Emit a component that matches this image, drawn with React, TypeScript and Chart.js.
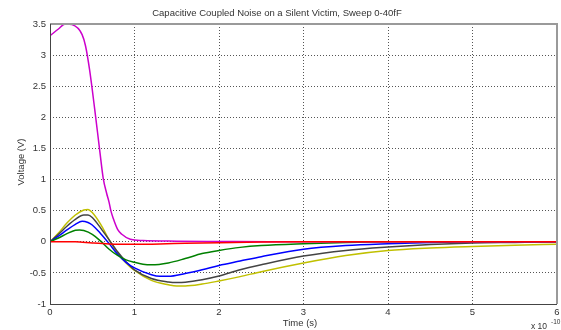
import React, { useEffect, useRef } from 'react';
import { Chart, registerables } from 'chart.js';

Chart.register(...registerables);

// Time axis in units of 1e-10 s
const tRed = [0, 0.3, 0.5, 0.7, 1.0, 1.3, 1.6, 2.0, 2.5, 3.0, 4.0, 5.0, 6.0];
const vRed = [0, 0, -0.02, -0.035, -0.04, -0.035, -0.025, -0.015, -0.005, 0, 0, 0, 0];

const tMag = [0, 0.1, 0.18, 0.26, 0.38, 0.42, 0.47, 0.53, 0.59, 0.63, 0.67, 0.7, 0.72, 0.75, 0.8, 0.85, 0.95, 1.1, 1.5, 2.0, 2.6, 4.0, 6.0];
const vMag = [3.31, 3.42, 3.5, 3.49, 3.33, 3.15, 2.75, 2.12, 1.45, 1.02, 0.78, 0.63, 0.5, 0.37, 0.2, 0.12, 0.04, 0.02, 0.01, 0.005, 0, 0, 0];

const tGreen = [0, 0.1, 0.2, 0.3, 0.35, 0.4, 0.5, 0.6, 0.7, 0.8, 0.9, 1.0, 1.1, 1.2, 1.4, 1.6, 1.8, 2.0, 2.25, 2.5, 3.0, 3.5, 4.0, 6.0];
const vGreen = [0, 0.06, 0.13, 0.185, 0.19, 0.18, 0.12, 0.01, -0.12, -0.22, -0.29, -0.33, -0.36, -0.37, -0.34, -0.27, -0.19, -0.14, -0.09, -0.06, -0.03, -0.01, 0, 0];

const tBlue = [0, 0.1, 0.2, 0.3, 0.38, 0.45, 0.5, 0.6, 0.7, 0.8, 0.9, 1.0, 1.2, 1.3, 1.4, 1.6, 1.8, 2.0, 2.25, 2.5, 3.0, 3.5, 4.0, 4.5, 5.0, 6.0];
const vBlue = [0, 0.09, 0.19, 0.28, 0.33, 0.31, 0.27, 0.13, -0.03, -0.2, -0.33, -0.42, -0.53, -0.555, -0.555, -0.51, -0.45, -0.38, -0.31, -0.24, -0.12, -0.06, -0.03, -0.01, 0, 0];

const tBlack = [0, 0.1, 0.2, 0.3, 0.4, 0.45, 0.5, 0.6, 0.7, 0.8, 0.9, 1.0, 1.2, 1.4, 1.5, 1.6, 1.8, 2.0, 2.25, 2.5, 3.0, 3.5, 4.0, 4.5, 5.0, 5.5, 6.0];
const vBlack = [0, 0.12, 0.25, 0.36, 0.43, 0.43, 0.39, 0.22, 0.03, -0.16, -0.32, -0.45, -0.59, -0.645, -0.655, -0.65, -0.61, -0.55, -0.45, -0.37, -0.23, -0.14, -0.085, -0.045, -0.02, -0.01, 0];

const tYellow = [0, 0.1, 0.2, 0.3, 0.4, 0.45, 0.5, 0.6, 0.7, 0.8, 0.9, 1.0, 1.2, 1.4, 1.5, 1.6, 1.8, 2.0, 2.25, 2.5, 3.0, 3.5, 4.0, 4.5, 5.0, 5.5, 6.0];
const vYellow = [0, 0.14, 0.3, 0.43, 0.51, 0.52, 0.47, 0.28, 0.03, -0.18, -0.34, -0.46, -0.62, -0.69, -0.71, -0.71, -0.68, -0.63, -0.56, -0.48, -0.34, -0.22, -0.14, -0.1, -0.075, -0.055, -0.04];

const xTicks = [0, 1, 2, 3, 4, 5, 6];
const yTicks = [-1, -0.5, 0, 0.5, 1, 1.5, 2, 2.5, 3, 3.5];

const TITLE = 'Capacitive Coupled Noise on a Silent Victim, Sweep 0-40fF';
const X_TITLE = 'Time (s)';
const Y_TITLE = 'Voltage (V)';

const pts = (t: number[], v: number[]) => t.map((x, i) => ({ x, y: v[i] }));

const FONT = 'Arial, "Liberation Sans", sans-serif';
const FS = 9.5;

const decor = {
  id: 'decor',
  afterDraw(chart: any) {
    const { ctx, chartArea: a } = chart;
    ctx.save();
    ctx.strokeStyle = '#9a9a9a';
    ctx.lineWidth = 2;
    ctx.beginPath();
    ctx.moveTo(a.left, a.top);
    ctx.lineTo(a.right, a.top);
    ctx.lineTo(a.right, a.bottom);
    ctx.stroke();
    ctx.strokeStyle = '#444';
    ctx.lineWidth = 1;
    ctx.beginPath();
    ctx.moveTo(a.left + 0.5, a.top);
    ctx.lineTo(a.left + 0.5, a.bottom + 0.5);
    ctx.lineTo(a.right, a.bottom + 0.5);
    ctx.stroke();

    ctx.fillStyle = '#333';
    ctx.font = `${FS}px ${FONT}`;
    ctx.textAlign = 'center';
    ctx.textBaseline = 'middle';
    ctx.fillText(TITLE, 277, 13);
    ctx.fillText(X_TITLE, 300, 323);
    ctx.save();
    ctx.translate(21, 162);
    ctx.rotate(-Math.PI / 2);
    ctx.fillText(Y_TITLE, 0, 0);
    ctx.restore();
    ctx.textAlign = 'left';
    ctx.font = `8.5px ${FONT}`;
    ctx.fillText('x 10', 531, 327);
    ctx.font = `6.5px ${FONT}`;
    ctx.fillText('-10', 551, 322);
    ctx.restore();
  },
};

export default function App() {
  const ref = useRef<HTMLCanvasElement | null>(null);
  useEffect(() => {
    if (!ref.current) return;
    const ds = (label: string, t: number[], v: number[], color: string) => ({
      label,
      data: pts(t, v),
      borderColor: color,
      backgroundColor: color,
      borderWidth: 1.5,
      pointRadius: 0,
      cubicInterpolationMode: 'monotone' as const,
      fill: false,
    });
    const chart = new Chart(ref.current, {
      type: 'line',
      data: {
        datasets: [
          ds('0fF', tRed, vRed, '#ff0000'),
          ds('aggressor', tMag, vMag, '#cc00cc'),
          ds('10fF', tGreen, vGreen, '#008000'),
          ds('20fF', tBlue, vBlue, '#0000ff'),
          ds('30fF', tBlack, vBlack, '#444444'),
          ds('40fF', tYellow, vYellow, '#c0c000'),
        ],
      },
      options: {
        responsive: false,
        animation: false,
        layout: { padding: { top: 24, right: 4, left: 0, bottom: 0 } },
        plugins: { legend: { display: false }, title: { display: false }, tooltip: { enabled: false } },
        scales: {
          x: {
            type: 'linear',
            min: xTicks[0],
            max: xTicks[xTicks.length - 1],
            afterBuildTicks: (s: any) => { s.ticks = xTicks.map((v) => ({ value: v })); },
            afterFit: (s: any) => { s.height = 26; s.paddingRight = 0; s.paddingLeft = 0; },
            ticks: { color: '#333', font: { family: FONT, size: FS }, padding: 3, maxRotation: 0, callback: (v: any) => String(v) },
            grid: { color: '#555', lineWidth: 1, drawTicks: false },
            border: { display: false, dash: [1, 2] },
          },
          y: {
            type: 'linear',
            min: yTicks[0],
            max: yTicks[yTicks.length - 1],
            afterBuildTicks: (s: any) => { s.ticks = yTicks.map((v) => ({ value: v })); },
            afterFit: (s: any) => { s.width = 50; },
            ticks: { color: '#333', font: { family: FONT, size: FS }, padding: 4, callback: (v: any) => String(v) },
            grid: { color: '#555', lineWidth: 1, drawTicks: false },
            border: { display: false, dash: [1, 2] },
          },
        },
      },
      plugins: [decor],
    });
    return () => chart.destroy();
  }, []);
  return (
    <div style={{ position: 'absolute', left: 0, top: 0, width: 561, height: 330, background: '#fff' }}>
      <canvas ref={ref} width={561} height={330} style={{ display: 'block' }} />
    </div>
  );
}
